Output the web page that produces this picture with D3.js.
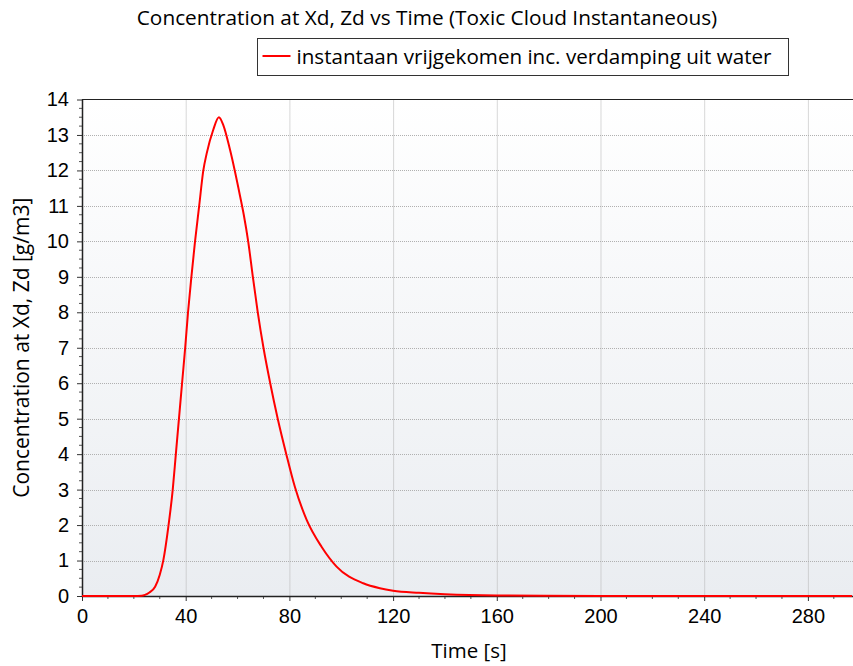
<!DOCTYPE html>
<html>
<head>
<meta charset="utf-8">
<script src="https://cdn.jsdelivr.net/npm/d3@7"></script>
<style>
  html, body { margin: 0; padding: 0; background: #ffffff; }
  svg { display: block; font-family: "Open Sans", "Noto Sans", sans-serif; }
</style>
</head>
<body>
<div id="chart"></div>
<script>
// Données
const timeS = [0, 20, 23, 24.3, 26, 28.2, 30, 31.4, 33.3, 35.0, 36.2, 37.4, 38.6, 39.8, 40.9, 42.2, 43.6, 45.2, 46.8, 48.1, 50.6, 52.8, 54.5, 57.1, 60.9, 62.4, 64.1, 65.9, 67.8, 70.0, 72.6, 75.5, 78.8, 82.1, 86.7, 92.4, 98.2, 108.5, 114.9, 120, 130, 140, 160, 200, 240, 280, 297];
const concentration = [0, 0, 0.005, 0.03, 0.1, 0.26, 0.6, 1.02, 1.95, 3.0, 4.0, 5.0, 6.0, 7.0, 8.0, 9.0, 10.0, 11.0, 12.0, 12.48, 13.14, 13.5, 13.28, 12.58, 11.3, 10.75, 10.0, 9.0, 8.0, 7.0, 6.0, 5.0, 4.0, 3.08, 2.14, 1.39, 0.83, 0.36, 0.22, 0.15, 0.09, 0.05, 0.015, 0.003, 0, 0, 0];

const xTicks = [0, 40, 80, 120, 160, 200, 240, 280];
const yTicks = [0, 1, 2, 3, 4, 5, 6, 7, 8, 9, 10, 11, 12, 13, 14];

const title = "Concentration at Xd, Zd vs Time (Toxic Cloud Instantaneous)";
const seriesName = "instantaan vrijgekomen inc. verdamping uit water";
const xLabel = "Time [s]";
const yLabel = "Concentration at Xd, Zd [g/m3]";

const data = timeS.map((t, i) => ({ t: t, c: concentration[i] }));

//---------------------------------------------------------------------------------------

// Canevas
const W = 853, H = 666;
const plot = { left: 82, top: 99.5, right: 853, bottom: 596 };

const svg = d3.select("#chart")
  .append("svg")
  .attr("width", W)
  .attr("height", H);

// dégradé du fond
const defs = svg.append("defs");
const grad = defs.append("linearGradient")
  .attr("id", "bg")
  .attr("x1", 0).attr("y1", 0).attr("x2", 0).attr("y2", 1);
grad.append("stop").attr("offset", "0%").attr("stop-color", "#ffffff");
grad.append("stop").attr("offset", "100%").attr("stop-color", "#eaedf1");

defs.append("clipPath").attr("id", "clip")
  .append("rect")
  .attr("x", plot.left).attr("y", plot.top - 2)
  .attr("width", plot.right - plot.left).attr("height", plot.bottom - plot.top + 4);

// Échelles
const scaleX = d3.scaleLinear().domain([0, 297.4]).range([plot.left, plot.right]);
const scaleY = d3.scaleLinear().domain([0, 14]).range([plot.bottom, plot.top]);

svg.append("rect")
  .attr("x", plot.left).attr("y", plot.top)
  .attr("width", plot.right - plot.left).attr("height", plot.bottom - plot.top)
  .attr("fill", "url(#bg)");

//---------------------------------------------------------------------------------------

// Grille
svg.append("g")
  .selectAll("line")
  .data(xTicks.filter(d => d > 0))
  .join("line")
  .attr("x1", d => scaleX(d) + 0.5).attr("x2", d => scaleX(d) + 0.5)
  .attr("y1", plot.top).attr("y2", plot.bottom)
  .attr("stroke", "#b0b0b0")
  .attr("stroke-dasharray", "1,1");

svg.append("g")
  .selectAll("line")
  .data(yTicks.filter(d => d > 0 && d < 14))
  .join("line")
  .attr("x1", plot.left).attr("x2", plot.right)
  .attr("y1", d => Math.round(scaleY(d)) + 0.5).attr("y2", d => Math.round(scaleY(d)) + 0.5)
  .attr("stroke", "#b0b0b0")
  .attr("stroke-dasharray", "1,1");

//---------------------------------------------------------------------------------------

// Axes
const xAxis = g => g
  .attr("transform", `translate(0, ${plot.bottom})`)
  .call(d3.axisBottom(scaleX).tickValues(xTicks).tickSize(5).tickPadding(8).tickFormat(d3.format("d")))
  .call(g => g.select(".domain").remove())
  .call(g => g.selectAll("text").attr("font-size", "20px").attr("fill", "#000"));

const yAxis = g => g
  .attr("transform", `translate(${plot.left}, 0)`)
  .call(d3.axisLeft(scaleY).tickValues(yTicks).tickSize(5).tickPadding(8).tickFormat(d3.format("d")))
  .call(g => g.select(".domain").remove())
  .call(g => g.selectAll("text").attr("font-size", "20px").attr("fill", "#000"));

// graduations secondaires
const xMinor = d3.range(0, 297, 10).filter(d => d % 40 !== 0);
const yMinor = d3.range(0, 14, 0.25).filter(d => d % 1 !== 0);

svg.append("g")
  .selectAll("line")
  .data(xMinor)
  .join("line")
  .attr("x1", d => scaleX(d)).attr("x2", d => scaleX(d))
  .attr("y1", plot.bottom).attr("y2", plot.bottom + 3)
  .attr("stroke", "#555");

svg.append("g")
  .selectAll("line")
  .data(yMinor)
  .join("line")
  .attr("x1", plot.left - 3).attr("x2", plot.left)
  .attr("y1", d => scaleY(d)).attr("y2", d => scaleY(d))
  .attr("stroke", "#555");

svg.append("g").call(xAxis).attr("color", "#333");
svg.append("g").call(yAxis).attr("color", "#333");

// cadre
svg.append("path")
  .attr("d", `M${plot.left + 0.5},${plot.top} V${plot.bottom + 0.5} H${plot.right}`)
  .attr("fill", "none")
  .attr("stroke", "#222")
  .attr("stroke-width", 1.5);
svg.append("line")
  .attr("x1", plot.left).attr("x2", plot.right)
  .attr("y1", plot.top).attr("y2", plot.top)
  .attr("stroke", "#222");

//---------------------------------------------------------------------------------------

// Courbe
const line = d3.line()
  .x(d => scaleX(d.t))
  .y(d => scaleY(d.c))
  .curve(d3.curveMonotoneX);

svg.append("path")
  .datum(data)
  .attr("clip-path", "url(#clip)")
  .attr("d", line)
  .attr("fill", "none")
  .attr("stroke", "#ff0000")
  .attr("stroke-width", 2);

//---------------------------------------------------------------------------------------

// Titraille
svg.append("text")
  .attr("x", 427).attr("y", 25)
  .attr("text-anchor", "middle")
  .attr("font-size", "20.8px")
  .text(title);

// Légende
const legend = svg.append("g").attr("transform", "translate(257.5, 38.5)");
legend.append("rect")
  .attr("width", 531).attr("height", 37)
  .attr("fill", "#fff")
  .attr("stroke", "#333");
legend.append("line")
  .attr("x1", 5).attr("x2", 33)
  .attr("y1", 17.5).attr("y2", 17.5)
  .attr("stroke", "#ff0000")
  .attr("stroke-width", 2);
legend.append("text")
  .attr("x", 39).attr("y", 25)
  .attr("font-size", "20.6px")
  .text(seriesName);

// Titres d'axes
svg.append("text")
  .attr("x", 469).attr("y", 658)
  .attr("text-anchor", "middle")
  .attr("font-size", "20.5px")
  .text(xLabel);

svg.append("text")
  .attr("transform", `translate(29, ${(plot.top + plot.bottom) / 2}) rotate(-90)`)
  .attr("text-anchor", "middle")
  .attr("font-size", "21px")
  .text(yLabel);
</script>
</body>
</html>
